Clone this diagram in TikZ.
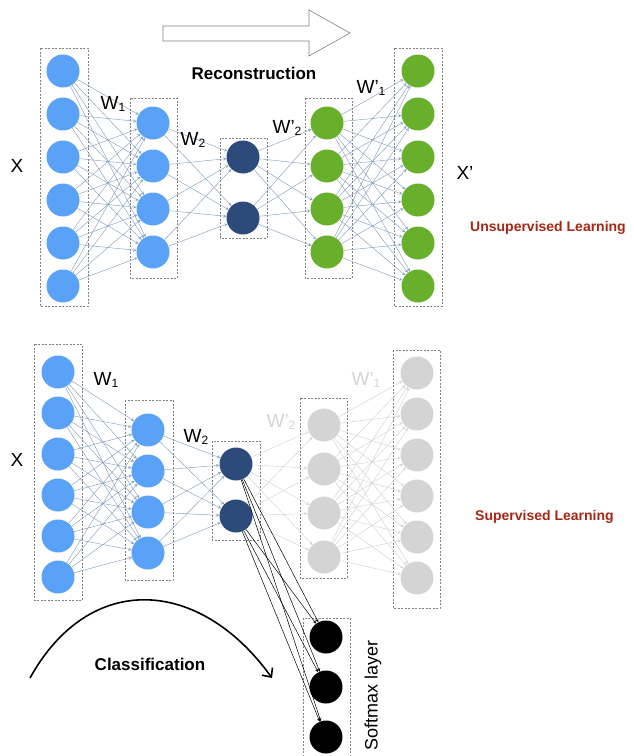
\documentclass[tikz,border=0pt]{standalone}
\usepackage{fontspec}
\setmainfont{Liberation Sans}
\usetikzlibrary{arrows.meta}
\definecolor{inblue}{HTML}{5AA2F8}
\definecolor{codenavy}{HTML}{2C4B7B}
\definecolor{outgreen}{HTML}{68AF2C}
\definecolor{offgray}{HTML}{D4D4D4}
\definecolor{linkblue}{HTML}{86A0C0}
\definecolor{linkgray}{HTML}{D2D2D2}
\definecolor{boxgray}{HTML}{808080}
\definecolor{learnred}{HTML}{A82614}
\newcommand\wsub[1]{\raisebox{-1.5pt}{\fontsize{12}{12}\selectfont #1}}
\begin{document}
\begin{tikzpicture}[x=1pt,y=-1pt,>=stealth,
  unit/.style={circle,minimum size=33pt,inner sep=0pt},
  link/.style={->,line width=0.45pt,linkblue},
  faint/.style={->,line width=0.45pt,linkgray},
  layerbox/.style={draw=boxgray,line width=0.7pt,dash pattern=on 2pt off 1.5pt},
  lbl/.style={font=\fontsize{19}{19}\selectfont},
  head/.style={font=\fontsize{17}{17}\selectfont\bfseries},
  learn/.style={anchor=west,inner sep=0pt,text=learnred,font=\fontsize{14}{14}\selectfont\bfseries}]
\useasboundingbox (0,0) rectangle (634,756);

% reconstruction arrow
\draw[line width=0.6pt,draw=gray,fill=white] (163,26) -- (309,26) -- (309,10) -- (350,33)
  -- (309,56) -- (309,41) -- (163,41) -- cycle;
\node[head] (recon) at (254,73) {Reconstruction};

% top: layer boxes
\draw[layerbox] (40,48) rectangle (88,306);
\draw[layerbox] (130,98) rectangle (177,278);
\draw[layerbox] (220,138) rectangle (267,238);
\draw[layerbox] (305,98) rectangle (352,278);
\draw[layerbox] (394,48) rectangle (442,306);

% top: units
\foreach \i in {1,...,6} \node[unit,fill=inblue] (ti\i) at (63,{71+43*(\i-1)}) {};
\foreach \i in {1,...,4} \node[unit,fill=inblue] (th\i) at (153,{123+43*(\i-1)}) {};
\node[unit,fill=codenavy] (tc1) at (243,157) {};
\node[unit,fill=codenavy] (tc2) at (243,218) {};
\foreach \i in {1,...,4} \node[unit,fill=outgreen] (td\i) at (327,{123+43*(\i-1)}) {};
\foreach \i in {1,...,6} \node[unit,fill=outgreen] (to\i) at (418,{71+43*(\i-1)}) {};

% top: weights
\foreach \i in {1,...,6} \foreach \j in {1,...,4} \draw[link] (ti\i) -- (th\j);
\foreach \i in {1,...,4} \foreach \j in {1,2} \draw[link] (th\i) -- (tc\j);
\foreach \i in {1,2} \foreach \j in {1,...,4} \draw[link] (tc\i) -- (td\j);
\foreach \i in {1,...,4} \foreach \j in {1,...,6} \draw[link] (td\i) -- (to\j);

\node[lbl] (xtop) at (17,166) {X};
\node[lbl] (w1top) at (113,104) {W\wsub{1}};
\node[lbl] (w2top) at (193,140) {W\wsub{2}};
\node[lbl] (w2ptop) at (287,128) {W’\wsub{2}};
\node[lbl] (w1ptop) at (371,88) {W’\wsub{1}};
\node[lbl] (xptop) at (465,173) {X’};
\node[learn] (unsup) at (470,228) {Unsupervised Learning};

% bottom: layer boxes
\draw[layerbox] (34,344) rectangle (82,600);
\draw[layerbox] (125,400) rectangle (173,580);
\draw[layerbox] (212,441) rectangle (260,540);
\draw[layerbox] (300,398) rectangle (347,578);
\draw[layerbox] (393,350) rectangle (440,608);
\draw[layerbox] (303,618) rectangle (350,760);

% bottom: units
\foreach \i in {1,...,6} \node[unit,fill=inblue] (bi\i) at (58,{372+41*(\i-1)}) {};
\foreach \i in {1,...,4} \node[unit,fill=inblue] (bh\i) at (148,{430+41*(\i-1)}) {};
\node[unit,fill=codenavy] (bc1) at (236,464) {};
\node[unit,fill=codenavy] (bc2) at (236,516) {};
\foreach \i in {1,...,4} \node[unit,fill=offgray] (bd\i) at (324,{425+44*(\i-1)}) {};
\foreach \i in {1,...,6} \node[unit,fill=offgray] (bo\i) at (417,{373+41*(\i-1)}) {};
\foreach \i in {1,2,3} \node[unit,fill=black] (sm\i) at (326,{637+50*(\i-1)}) {};

% bottom: weights
\foreach \i in {1,...,6} \foreach \j in {1,...,4} \draw[link] (bi\i) -- (bh\j);
\foreach \i in {1,...,4} \foreach \j in {1,2} \draw[link] (bh\i) -- (bc\j);
\foreach \i in {1,2} \foreach \j in {1,...,4} \draw[faint] (bc\i) -- (bd\j);
\foreach \i in {1,...,4} \foreach \j in {1,...,6} \draw[faint] (bd\i) -- (bo\j);
\foreach \i in {1,2} \foreach \j in {1,2,3} \draw[->,line width=0.5pt] (bc\i) -- (sm\j);

\node[lbl] (xbot) at (17,460) {X};
\node[lbl] (w1bot) at (106,380) {W\wsub{1}};
\node[lbl] (w2bot) at (196,437) {W\wsub{2}};
\node[lbl,text=offgray] (w2pbot) at (281,422) {W’\wsub{2}};
\node[lbl,text=offgray] (w1pbot) at (366,380) {W’\wsub{1}};
\node[learn] (sup) at (475,517) {Supervised Learning};
\node[font=\fontsize{18}{18}\selectfont,rotate=90] (smlabel) at (373,695) {Softmax layer};

% classification
\coordinate (arcstart) at (30,678);
\coordinate (arcend) at (272,678);
\draw[line width=1.6pt,-{Straight Barb[length=7pt,width=13pt]}] (arcstart)
  .. controls (90,570) and (200,578) .. (arcend);
\node[head] (classif) at (150,664) {Classification};
\end{tikzpicture}
\end{document}
